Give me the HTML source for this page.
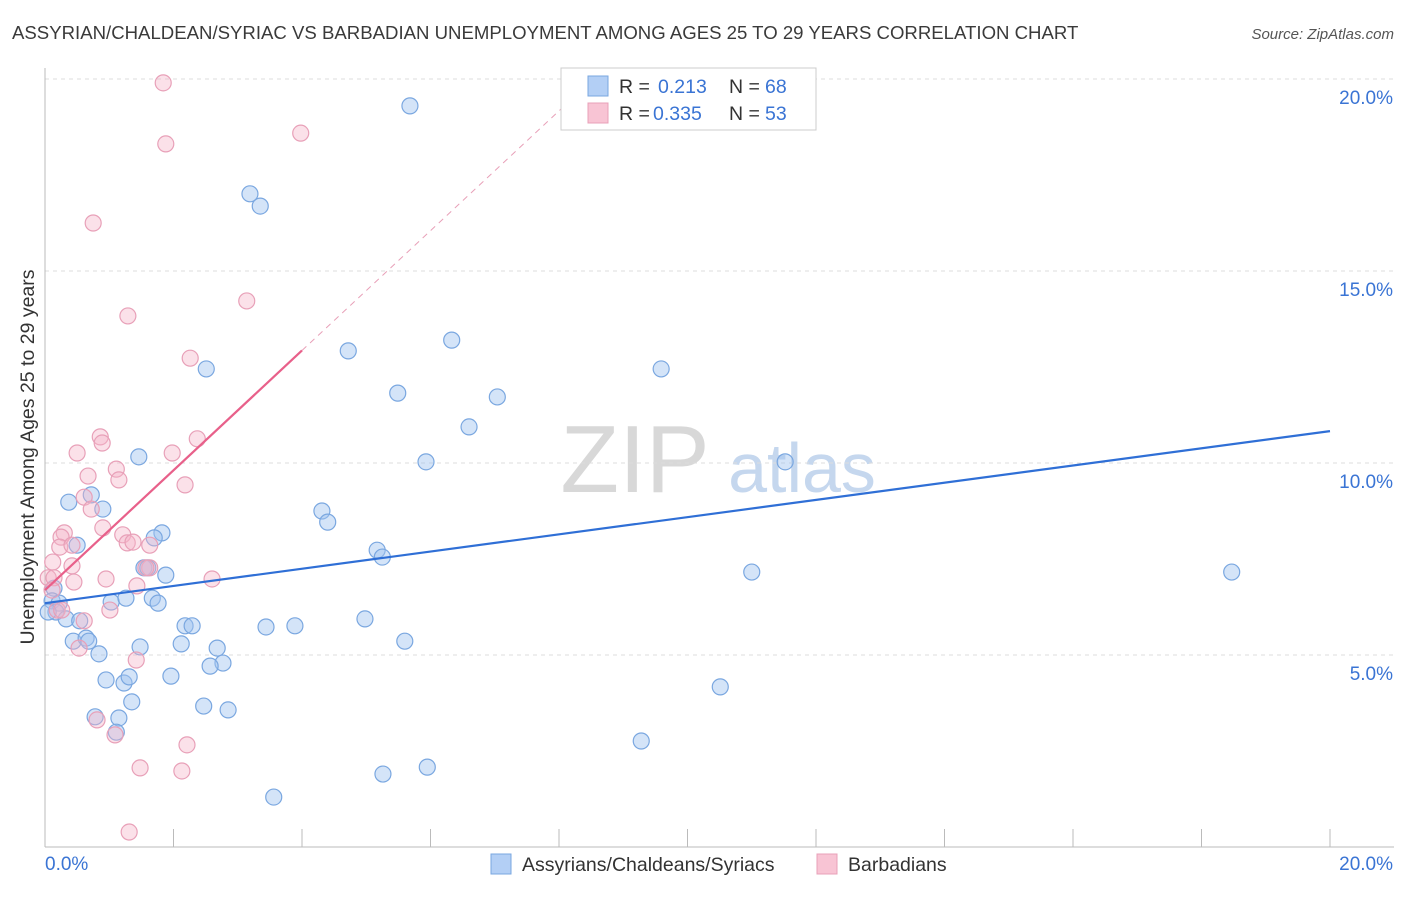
<!DOCTYPE html>
<html><head><meta charset="utf-8"><style>
body{margin:0;background:#fff;font-family:"Liberation Sans",sans-serif;}
svg text{font-family:"Liberation Sans",sans-serif;}
</style></head><body>
<svg id="chart" width="1406" height="892" viewBox="0 0 1406 892" xmlns="http://www.w3.org/2000/svg">
<text x="12" y="39" font-size="18.6" fill="#3a3a3a">ASSYRIAN/CHALDEAN/SYRIAC VS BARBADIAN UNEMPLOYMENT AMONG AGES 25 TO 29 YEARS CORRELATION CHART</text>
<text x="1394" y="39" font-size="15" fill="#555" text-anchor="end" font-style="italic">Source: ZipAtlas.com</text>
<g>
<text x="635" y="492" font-size="96" fill="#d8d8d8" text-anchor="middle" font-family="Liberation Serif, serif">ZIP</text>
<text x="802" y="492" font-size="70" fill="#c5d7ee" text-anchor="middle">atlas</text>
</g>
<g id="grid"></g>
<g id="axes"></g>
<g id="marks"></g>
<text transform="translate(34,457) rotate(-90)" font-size="19.5" fill="#333" text-anchor="middle">Unemployment Among Ages 25 to 29 years</text>
<g>
<rect x="561" y="68" width="255" height="62" fill="#fff" stroke="#ccc"/>
<rect x="588" y="76" width="20" height="20" fill="#b3cff5" stroke="#7aa7e0"/>
<rect x="588" y="103" width="20" height="20" fill="#f8c4d4" stroke="#e8a0b8"/>
<text x="619" y="93" font-size="19.5" fill="#333">R = </text><text x="658" y="93" font-size="19.5" fill="#3a74d4">0.213</text>
<text x="729" y="93" font-size="19.5" fill="#333">N = </text><text x="765" y="93" font-size="19.5" fill="#3a74d4">68</text>
<text x="619" y="120" font-size="19.5" fill="#333">R = </text><text x="653" y="120" font-size="19.5" fill="#3a74d4">0.335</text>
<text x="729" y="120" font-size="19.5" fill="#333">N = </text><text x="765" y="120" font-size="19.5" fill="#3a74d4">53</text>
</g>
<g>
<rect x="491" y="854" width="20" height="20" fill="#b3cff5" stroke="#7aa7e0"/>
<text x="522" y="871" font-size="19.5" fill="#333">Assyrians/Chaldeans/Syriacs</text>
<rect x="817" y="854" width="20" height="20" fill="#f8c4d4" stroke="#e8a0b8"/>
<text x="848" y="871" font-size="19.5" fill="#333">Barbadians</text>
</g>
</svg>
<script>
const blueX=[5.68,3.19,3.35,6.33,4.72,2.51,9.59,5.49,7.04,6.60,1.46,5.93,11.52,0.37,0.72,0.90,4.31,4.40,1.82,1.70,0.50,5.17,5.25,1.54,1.60,1.88,11.00,18.47,0.14,0.11,0.22,0.17,0.05,0.33,0.54,1.03,1.26,1.67,1.76,4.98,2.18,2.29,3.44,3.89,0.44,0.64,0.68,1.48,2.12,2.68,5.60,0.84,2.77,2.57,0.95,1.23,1.31,1.96,10.51,1.35,2.47,2.85,0.78,1.15,1.11,9.28,5.95,5.26,3.56];
const blueY=[19.30,17.01,16.69,13.20,12.92,12.45,12.45,11.82,11.72,10.94,10.16,10.03,10.03,8.98,9.17,8.80,8.75,8.46,8.18,8.05,7.86,7.73,7.55,7.27,7.27,7.08,7.16,7.16,6.74,6.41,6.35,6.12,6.12,5.94,5.89,6.38,6.48,6.48,6.35,5.94,5.76,5.76,5.73,5.76,5.36,5.44,5.36,5.21,5.29,5.18,5.36,5.03,4.79,4.71,4.35,4.27,4.43,4.45,4.17,3.78,3.67,3.57,3.39,3.36,2.99,2.76,2.08,1.90,1.30];
const pinkX=[1.84,1.88,3.98,0.75,3.14,1.29,2.26,0.86,0.89,2.37,0.50,1.98,0.67,1.11,1.15,2.18,0.61,0.72,0.90,0.30,0.25,0.23,1.21,0.42,1.28,1.37,1.63,1.63,1.57,0.12,0.42,0.45,0.95,1.43,2.60,0.05,0.14,0.11,1.01,0.61,0.53,1.42,0.81,1.09,2.21,1.48,2.13,1.31,0.19,0.26];
const pinkY=[19.90,18.31,18.59,16.25,14.22,13.83,12.73,10.68,10.52,10.63,10.26,10.26,9.66,9.84,9.56,9.43,9.11,8.80,8.31,8.18,8.07,7.81,8.13,7.86,7.92,7.94,7.86,7.27,7.27,7.42,7.32,6.90,6.98,6.80,6.98,7.01,7.01,6.69,6.17,5.89,5.18,4.87,3.31,2.92,2.66,2.06,1.98,0.39,6.17,6.17];
const blueTrend=[6.35,10.83];   // y at x=0 and x=20
const pinkTrend=[6.69,1.56];    // intercept, slope
const yTicks=[5,10,15,20];
const yTickLabels=["5.0%","10.0%","15.0%","20.0%"];
const xTickCount=10;

const NS="http://www.w3.org/2000/svg";
const xs=v=>45+v*64.25;
const ys=v=>847-v*38.4;
function mk(tag,attrs,parent){const e=document.createElementNS(NS,tag);for(const k in attrs)e.setAttribute(k,attrs[k]);parent.appendChild(e);return e;}
const grid=document.getElementById('grid'),axes=document.getElementById('axes'),marks=document.getElementById('marks');
yTicks.forEach((t,i)=>{
  const l=mk('line',{x1:45,x2:1394,y1:ys(t),y2:ys(t),stroke:'#ddd','stroke-dasharray':'4,4'},grid);
  
  
  const tx=mk('text',{x:1393,y:ys(t)+25,'font-size':19,fill:'#3a74d4','text-anchor':'end'},axes);
  tx.textContent=yTickLabels[i];
  
  
});
const ax=mk('line',{x1:45,x2:45,y1:68,y2:847,stroke:'#bbb'},axes);


const bx=mk('line',{x1:45,x2:1394,y1:847,y2:847,stroke:'#bbb'},axes);


for(let i=0;i<=xTickCount;i++){
  const x=xs(i*20/xTickCount);
  const t=mk('line',{x1:x,x2:x,y1:829,y2:847,stroke:'#bbb'},axes);
  
  
}
const x0=mk('text',{x:45,y:870,'font-size':19,fill:'#3a74d4'},axes);x0.textContent="0.0%";


const x1=mk('text',{x:1393,y:870,'font-size':19,fill:'#3a74d4','text-anchor':'end'},axes);x1.textContent="20.0%";



blueX.forEach((v,i)=>{
  const c=mk('circle',{cx:xs(v),cy:ys(blueY[i]),r:8,fill:'rgba(160,196,240,0.45)',stroke:'#7aa7e0','stroke-width':1.2},marks);
  
  
});
pinkX.forEach((v,i)=>{
  const c=mk('circle',{cx:xs(v),cy:ys(pinkY[i]),r:8,fill:'rgba(245,180,200,0.4)',stroke:'#e8a0b8','stroke-width':1.2},marks);
  
  
});
const bl=mk('line',{x1:xs(0),y1:ys(blueTrend[0]),x2:xs(20),y2:ys(blueTrend[1]),stroke:'#2f6fd6','stroke-width':2.2},marks);


const pe=4, pd=8.1;
const pl=mk('line',{x1:xs(0),y1:ys(pinkTrend[0]),x2:xs(pe),y2:ys(pinkTrend[0]+pinkTrend[1]*pe),stroke:'#e8608a','stroke-width':2.2},marks);


const pdl=mk('line',{x1:xs(pe),y1:ys(pinkTrend[0]+pinkTrend[1]*pe),x2:xs(pd),y2:ys(pinkTrend[0]+pinkTrend[1]*pd),stroke:'#e8a0b8','stroke-width':1,'stroke-dasharray':'6,5'},marks);


</script>
</body></html>
